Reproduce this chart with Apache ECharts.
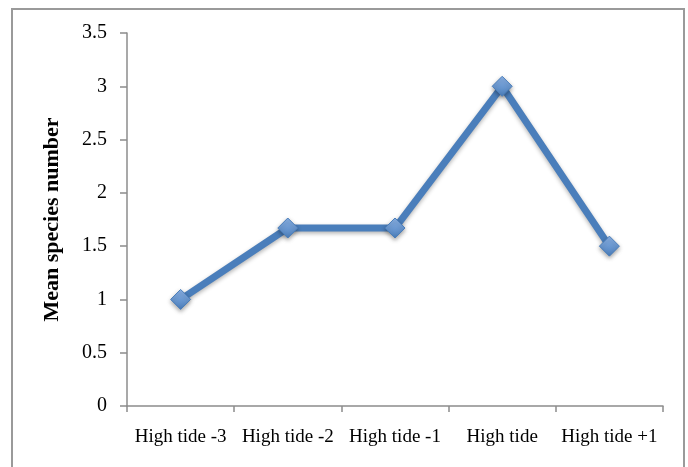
<!DOCTYPE html>
<html>
<head>
<meta charset="utf-8">
<script src="https://cdn.jsdelivr.net/npm/echarts@6/dist/echarts.min.js"></script>
<style>
html,body{margin:0;padding:0;background:#fff;}
#c{width:688px;height:467px;}
</style>
</head>
<body>
<div id="c"></div>
<script>
const categories = ['High tide -3', 'High tide -2', 'High tide -1', 'High tide', 'High tide +1'];
const meanSpecies = [1, 1.67, 1.67, 3, 1.5];
const yTicks = { min: 0, max: 3.5, interval: 0.5 };
const yTitle = 'Mean species number';

const chart = echarts.init(document.getElementById('c'));
const font = '"Liberation Serif", "DejaVu Serif", serif';
chart.setOption({
  animation: false,
  backgroundColor: '#fff',
  graphic: [{
    type: 'rect',
    shape: { x: 12, y: 9, width: 672, height: 470 },
    style: { fill: 'none', stroke: '#9a9a9a', lineWidth: 2 },
    silent: true, z: -1
  }],
  grid: { left: 127, right: 25, top: 33, bottom: 61, containLabel: false },
  xAxis: {
    type: 'category',
    data: categories,
    boundaryGap: true,
    axisLine: { show: true, lineStyle: { color: '#8c8c8c', width: 1.5 } },
    axisTick: { show: true, alignWithLabel: false, length: 6, lineStyle: { color: '#8c8c8c', width: 1.5 } },
    axisLabel: { color: '#000', fontFamily: font, fontSize: 19, margin: 22, interval: 0 },
    splitLine: { show: false }
  },
  yAxis: {
    type: 'value',
    min: yTicks.min, max: yTicks.max, interval: yTicks.interval,
    name: yTitle,
    nameLocation: 'middle',
    nameGap: 64,
    nameRotate: 90,
    nameTextStyle: { color: '#000', fontFamily: font, fontSize: 22, fontWeight: 'bold' },
    axisLine: { show: true, lineStyle: { color: '#8c8c8c', width: 1.5 } },
    axisTick: { show: true, length: 7, lineStyle: { color: '#8c8c8c', width: 1.5 } },
    axisLabel: { color: '#000', fontFamily: font, fontSize: 20, margin: 20 },
    splitLine: { show: false }
  },
  series: [{
    type: 'line',
    data: meanSpecies,
    symbol: 'diamond',
    symbolSize: 20,
    lineStyle: { color: '#4a7ebb', width: 7, shadowColor: 'rgba(0,0,0,0.3)', shadowBlur: 4, shadowOffsetY: 2 },
    itemStyle: {
      color: new echarts.graphic.LinearGradient(0, 0, 0, 1, [
        { offset: 0, color: '#8db4e8' },
        { offset: 1, color: '#4a7ebb' }
      ]),
      borderColor: '#4a7ebb',
      borderWidth: 1,
      shadowColor: 'rgba(0,0,0,0.35)',
      shadowBlur: 4,
      shadowOffsetY: 2
    },
    z: 3
  }]
});
</script>
</body>
</html>
